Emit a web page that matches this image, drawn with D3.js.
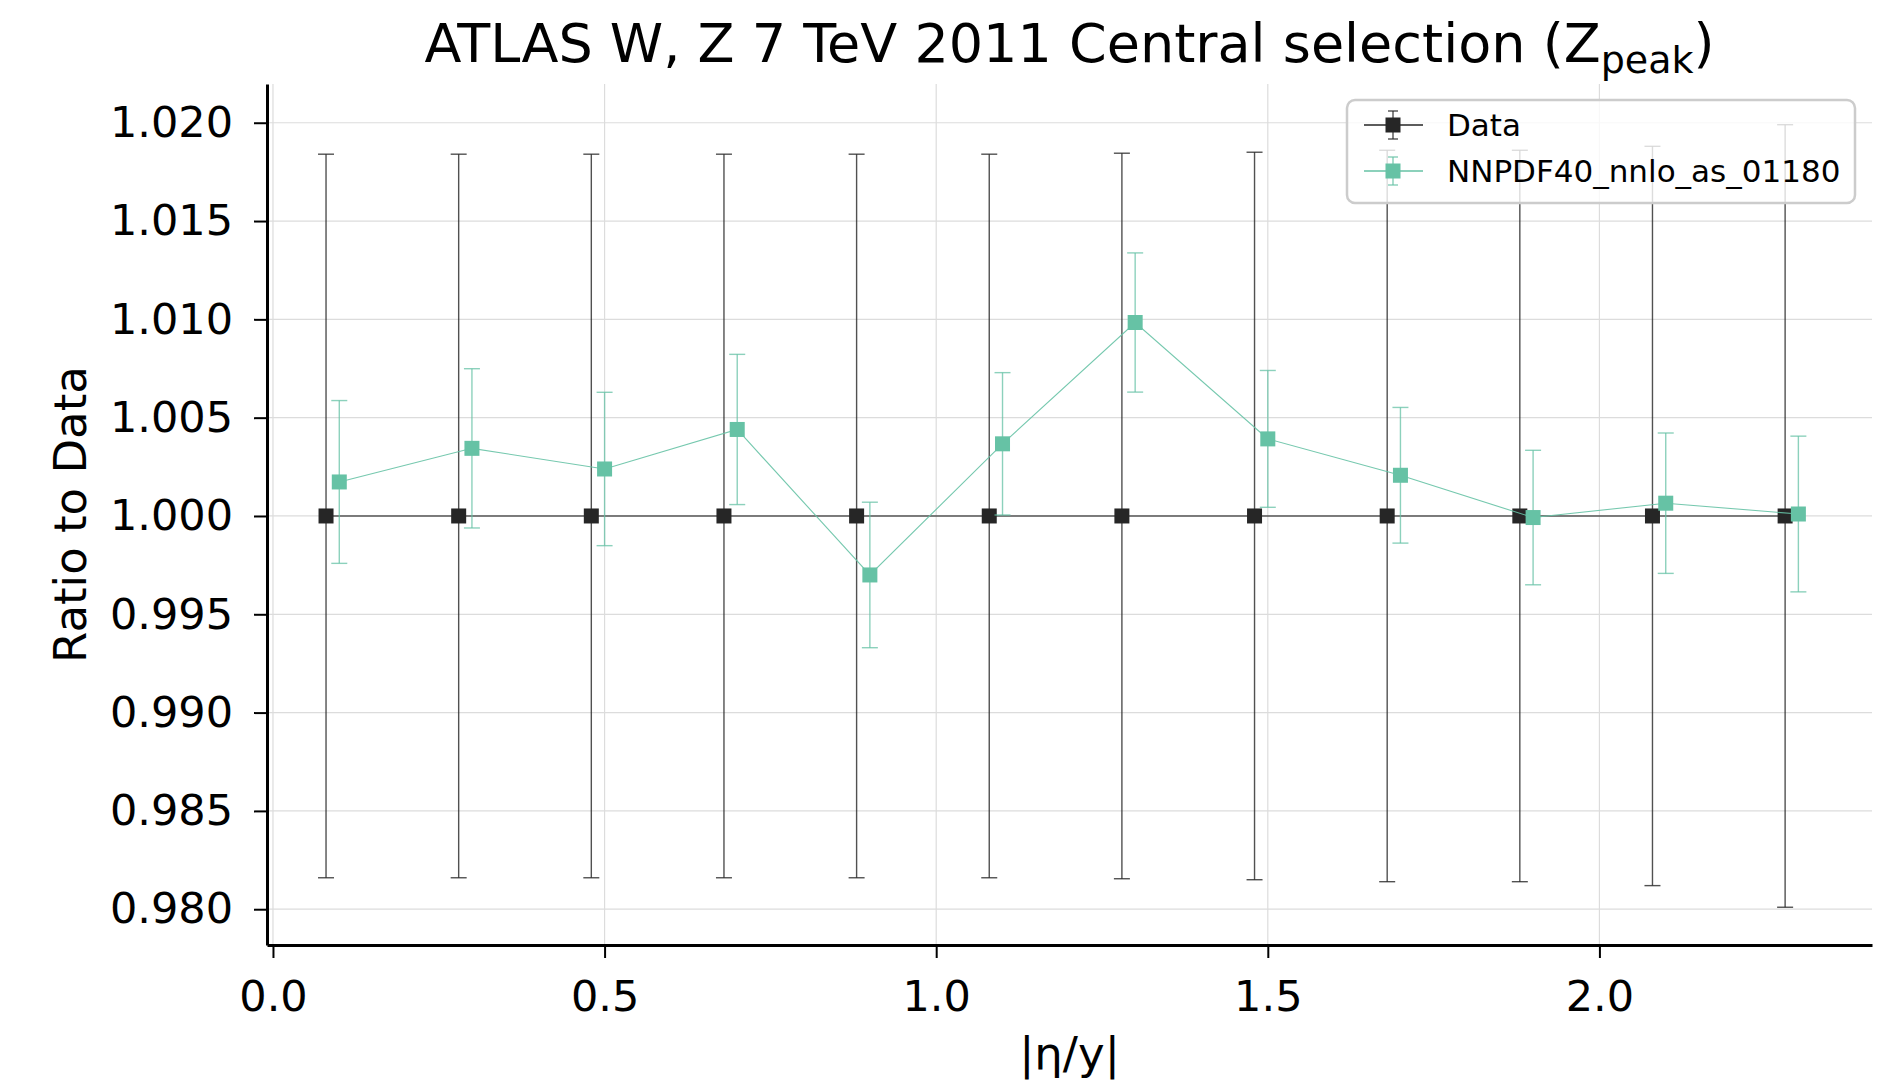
<!DOCTYPE html>
<html>
<head>
<meta charset="utf-8">
<script src="https://cdn.jsdelivr.net/npm/d3@7"></script>
<style>
  html, body { margin: 0; padding: 0; background: #fff; }
  svg { display: block; font-family: "DejaVu Sans", sans-serif; }
</style>
</head>
<body>
<div id="chart"></div>
<script>
// bins in |eta/y|, data points are drawn slightly shifted to the left
const dataX = [0.08, 0.28, 0.48, 0.68, 0.88, 1.08, 1.28, 1.48, 1.68, 1.88, 2.08, 2.28];
const dataRatio = [1, 1, 1, 1, 1, 1, 1, 1, 1, 1, 1, 1];
const dataErr = [0.0184, 0.0184, 0.0184, 0.0184, 0.0184, 0.0184, 0.01845, 0.0185, 0.0186, 0.0186, 0.0188, 0.0199];

const predX = [0.1, 0.3, 0.5, 0.7, 0.9, 1.1, 1.3, 1.5, 1.7, 1.9, 2.1, 2.3];
const predRatio = [1.00173, 1.00344, 1.00239, 1.00440, 0.99700, 1.00367, 1.00984, 1.00392, 1.00207, 0.99992, 1.00065, 1.00010];
const predErr = [0.00414, 0.00405, 0.00390, 0.00382, 0.00370, 0.00362, 0.00354, 0.00348, 0.00345, 0.00342, 0.00357, 0.00396];

const xTicks = [0, 0.5, 1.0, 1.5, 2.0];
const yTicks = [0.980, 0.985, 0.990, 0.995, 1.000, 1.005, 1.010, 1.015, 1.020];

const seriesNames = ["Data", "NNPDF40_nnlo_as_01180"];
const seriesColors = ["#262626", "#66c2a5"];

function draw() {
  const W = 1891, H = 1087;
  const margin = {top: 84, right: 19, bottom: 142, left: 267};
  const width = W - margin.left - margin.right;
  const height = H - margin.top - margin.bottom;

  const svg = d3.select("#chart")
    .append("svg")
    .attr("width", W)
    .attr("height", H)
    .attr("viewBox", [0, 0, W, H]);

  const chart = svg.append("g")
    .attr("transform", `translate(${margin.left},${margin.top})`);

  const x = d3.scaleLinear().domain([-0.009, 2.411]).range([0, width]);
  const y = d3.scaleLinear().domain([0.97818, 1.02197]).range([height, 0]);

  // grid
  chart.append("g").selectAll("line")
    .data(yTicks)
    .join("line")
    .attr("x1", 0).attr("x2", width)
    .attr("y1", d => y(d)).attr("y2", d => y(d))
    .attr("stroke", "#dcdcdc").attr("stroke-width", 1.2);
  chart.append("g").selectAll("line")
    .data(xTicks)
    .join("line")
    .attr("y1", 0).attr("y2", height)
    .attr("x1", d => x(d)).attr("x2", d => x(d))
    .attr("stroke", "#dcdcdc").attr("stroke-width", 1.2);

  // axes
  const yAxis = chart.append("g")
    .call(d3.axisLeft(y).tickValues(yTicks).tickFormat(d3.format(".3f")).tickSize(13).tickPadding(21).tickSizeOuter(0));
  const xAxis = chart.append("g")
    .attr("transform", `translate(0,${height})`)
    .call(d3.axisBottom(x).tickValues(xTicks).tickFormat(d3.format(".1f")).tickSize(13).tickPadding(22).tickSizeOuter(0));
  [xAxis, yAxis].forEach(a => {
    a.select(".domain").attr("stroke", "#000").attr("stroke-width", 3);
    a.selectAll(".tick line").attr("stroke", "#000").attr("stroke-width", 2);
    a.selectAll(".tick text")
      .attr("font-family", "DejaVu Sans")
      .attr("font-size", 43)
      .attr("fill", "#000");
  });

  // series
  const series = [
    {xs: dataX, ys: dataRatio, es: dataErr, color: seriesColors[0], lw: 1.4, errOpacity: 0.8, lineOpacity: 0.75},
    {xs: predX, ys: predRatio, es: predErr, color: seriesColors[1], lw: 1.1, errOpacity: 0.75, lineOpacity: 0.9}
  ];
  const cap = 8, msize = 15;

  series.forEach(s => {
    const pts = s.xs.map((v, i) => ({x: v, y: s.ys[i], e: s.es[i]}));
    const g = chart.append("g");

    g.append("path")
      .datum(pts)
      .attr("fill", "none")
      .attr("stroke", s.color)
      .attr("stroke-width", s.lw)
      .attr("stroke-opacity", s.lineOpacity)
      .attr("d", d3.line().x(d => x(d.x)).y(d => y(d.y)));

    const eb = g.append("g")
      .attr("stroke", s.color)
      .attr("stroke-width", 1.4)
      .attr("stroke-opacity", s.errOpacity);
    eb.selectAll("line.v")
      .data(pts)
      .join("line")
      .attr("class", "v")
      .attr("x1", d => x(d.x)).attr("x2", d => x(d.x))
      .attr("y1", d => y(d.y - d.e)).attr("y2", d => y(d.y + d.e));
    eb.selectAll("line.top")
      .data(pts)
      .join("line")
      .attr("class", "top")
      .attr("x1", d => x(d.x) - cap).attr("x2", d => x(d.x) + cap)
      .attr("y1", d => y(d.y + d.e)).attr("y2", d => y(d.y + d.e));
    eb.selectAll("line.bot")
      .data(pts)
      .join("line")
      .attr("class", "bot")
      .attr("x1", d => x(d.x) - cap).attr("x2", d => x(d.x) + cap)
      .attr("y1", d => y(d.y - d.e)).attr("y2", d => y(d.y - d.e));

    g.selectAll("rect")
      .data(pts)
      .join("rect")
      .attr("x", d => x(d.x) - msize / 2)
      .attr("y", d => y(d.y) - msize / 2)
      .attr("width", msize)
      .attr("height", msize)
      .attr("fill", s.color);
  });

  // legend
  const legend = svg.append("g").attr("transform", "translate(1347,100)");
  legend.append("rect")
    .attr("width", 508).attr("height", 103)
    .attr("rx", 8)
    .attr("fill", "#fff").attr("fill-opacity", 0.8)
    .attr("stroke", "#cccccc").attr("stroke-width", 2.5);
  seriesNames.forEach((name, i) => {
    const row = legend.append("g").attr("transform", `translate(0,${25 + i * 46})`);
    row.append("line")
      .attr("x1", 17).attr("x2", 76)
      .attr("stroke", seriesColors[i]).attr("stroke-width", 1.3);
    row.append("line")
      .attr("x1", 46).attr("x2", 46).attr("y1", -14).attr("y2", 14)
      .attr("stroke", seriesColors[i]).attr("stroke-width", 1.4).attr("stroke-opacity", 0.8);
    [-14, 14].forEach(dy => row.append("line")
      .attr("x1", 41).attr("x2", 51).attr("y1", dy).attr("y2", dy)
      .attr("stroke", seriesColors[i]).attr("stroke-width", 1.4).attr("stroke-opacity", 0.8));
    row.append("rect")
      .attr("x", 46 - msize / 2).attr("y", -msize / 2)
      .attr("width", msize).attr("height", msize)
      .attr("fill", seriesColors[i]);
    row.append("text")
      .attr("x", 100).attr("y", 0)
      .attr("dy", "0.36em")
      .attr("font-size", 31)
      .attr("fill", "#000")
      .text(name);
  });

  // title and axis labels
  const title = svg.append("text")
    .attr("x", margin.left + width / 2)
    .attr("y", 62)
    .attr("text-anchor", "middle")
    .attr("font-size", 54)
    .attr("fill", "#000");
  title.append("tspan").text("ATLAS W, Z 7 TeV 2011 Central selection (Z");
  title.append("tspan").attr("font-size", 38).attr("dy", 11).text("peak");
  title.append("tspan").attr("dy", -11).text(")");

  svg.append("text")
    .attr("x", margin.left + width / 2)
    .attr("y", 1069)
    .attr("text-anchor", "middle")
    .attr("font-size", 45)
    .attr("fill", "#000")
    .text("|η/y|");

  svg.append("text")
    .attr("transform", `translate(86,${margin.top + height / 2}) rotate(-90)`)
    .attr("text-anchor", "middle")
    .attr("font-size", 45)
    .attr("fill", "#000")
    .text("Ratio to Data");
}

draw();
</script>
</body>
</html>
